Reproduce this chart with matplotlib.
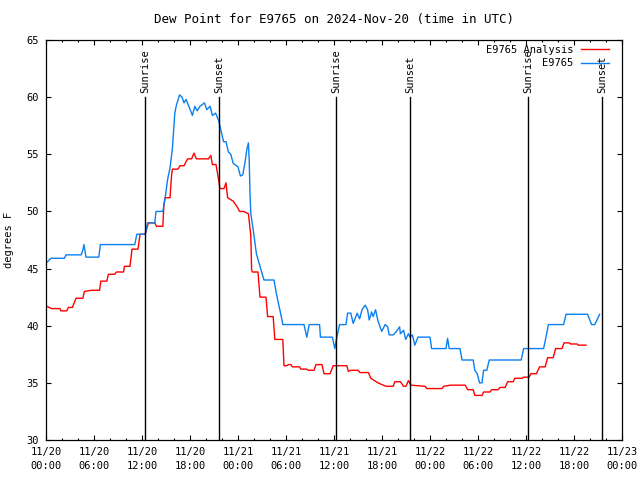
import matplotlib
matplotlib.use('Agg')
from matplotlib import pyplot as plt
from matplotlib import rcParams

rcParams['font.family'] = 'DejaVu Sans Mono'
rcParams['font.size'] = 7.5

# hours since 2024-11-20 00:00 UTC
obs_hours = [0.0, 0.2, 0.6, 2.3, 2.5, 4.4, 4.6, 4.75, 5.0, 6.6, 6.8, 11.1, 11.35, 12.4,
             12.7, 13.6, 13.75, 14.6, 14.9, 15.2, 15.5, 15.8, 16.1, 16.3, 16.7, 17.0,
             17.25, 17.5, 17.8, 18.3, 18.6, 18.9, 19.25, 19.8, 20.1, 20.5, 20.8, 21.2,
             21.6, 21.9, 22.2, 22.5, 22.8, 23.1, 23.4, 24.0, 24.3, 24.6, 24.9, 25.1,
             25.3, 25.4, 25.5, 25.6, 25.9, 26.3, 26.75, 27.25, 28.5, 28.8, 29.5, 29.6,
             32.25, 32.6, 32.9, 34.2, 34.3, 35.8, 36.1, 36.3, 36.7, 37.5, 37.7, 38.1,
             38.4, 38.9, 39.2, 39.5, 39.9, 40.2, 40.4, 40.7, 40.9, 41.2, 41.5, 41.96,
             42.4, 42.7, 42.9, 43.4, 43.8, 44.2, 44.3, 44.7, 44.96, 45.3, 45.5, 45.8,
             46.1, 46.5, 48.0, 48.2, 50.0, 50.2, 50.4, 51.75, 52.0, 53.4, 53.6, 53.9,
             54.2, 54.5, 54.7, 55.1, 55.4, 59.4, 59.7, 62.2, 62.5, 62.8, 64.7, 65.0,
             67.7, 68.2, 68.6, 69.2]
obs_dewpt = [45.5, 45.6, 45.9, 45.9, 46.2, 46.2, 46.6, 47.1, 46.0, 46.0, 47.1, 47.1, 48.0, 48.0,
             49.0, 49.0, 50.0, 50.0, 51.2, 52.8, 53.8, 55.5, 58.6, 59.3, 60.2, 60.0,
             59.5, 59.8, 59.3, 58.4, 59.2, 58.8, 59.2, 59.5, 58.9, 59.2, 58.4, 58.6,
             57.9, 57.0, 56.1, 56.1, 55.2, 55.0, 54.2, 53.9, 53.1, 53.2, 54.4, 55.4,
             56.0, 54.5, 51.6, 49.8, 48.4, 46.3, 45.2, 44.0, 44.0, 42.8, 40.5, 40.1,
             40.1, 39.0, 40.1, 40.1, 39.0, 39.0, 38.0, 38.8, 40.1, 40.1, 41.1, 41.1,
             40.2, 41.1, 40.6, 41.4, 41.8, 41.4, 40.5, 41.2, 40.8, 41.4, 40.4, 39.5,
             40.1, 39.9, 39.2, 39.2, 39.5, 39.9, 39.3, 39.6, 38.8, 39.3, 39.0, 39.2,
             38.3, 39.0, 39.0, 38.0, 38.0, 38.9, 38.0, 38.0, 37.0, 37.0, 36.1, 35.8,
             35.0, 35.0, 36.1, 36.1, 37.0, 37.0, 38.0, 38.0, 39.0, 40.1, 40.1, 41.0,
             41.0, 40.1, 40.1, 41.0]

ana_hours = [0.1, 0.7, 1.75, 1.85, 2.6, 2.8, 3.3, 3.75, 4.6, 4.8, 5.7, 6.7, 6.85, 7.6, 7.8,
             8.6, 8.8, 9.7, 9.8, 10.5, 10.75, 11.5, 11.75, 12.4, 12.8, 13.6, 13.8, 14.6,
             14.75, 14.9, 15.5, 15.7, 15.8, 16.5, 16.75, 17.25, 17.7, 18.2, 18.5, 18.8,
             20.3, 20.6, 20.8, 21.25, 21.5, 21.75, 22.25, 22.5, 22.7, 23.4, 23.9, 24.2,
             24.7, 25.3, 25.6, 25.7, 25.8, 26.5, 26.75, 27.5, 27.7, 28.4, 28.6, 29.6,
             29.75, 30.1, 30.3, 30.6, 30.8, 31.7, 31.85, 32.6, 32.8, 33.5, 33.75, 34.5,
             34.75, 35.5, 35.9, 37.6, 37.8, 38.1, 39.0, 39.25, 40.3, 40.6, 41.5, 42.5,
             43.4, 43.6, 44.3, 44.7, 45.0, 45.3, 45.6, 47.4, 47.6, 49.5, 49.7, 50.6,
             52.4, 52.7, 53.4, 53.6, 54.5, 54.7, 55.5, 55.7, 56.5, 56.75, 57.4, 57.7,
             58.4, 58.6, 59.5, 59.7, 60.4, 60.6, 61.3, 61.7, 62.4, 62.7, 63.4, 63.7,
             64.5, 64.75, 65.4, 65.6, 66.4, 66.5, 67.5]
ana_dewpt = [41.7, 41.5, 41.5, 41.3, 41.3, 41.6, 41.6, 42.4, 42.4, 43.0, 43.1, 43.1, 43.9, 43.9, 44.5,
             44.5, 44.7, 44.7, 45.2, 45.2, 46.7, 46.7, 48.0, 48.0, 49.0, 49.0, 48.7, 48.7,
             50.7, 51.2, 51.2, 53.2, 53.7, 53.7, 54.0, 54.0, 54.6, 54.6, 55.1, 54.6,
             54.6, 54.9, 54.1, 54.1, 53.1, 52.0, 52.0, 52.5, 51.2, 50.9, 50.4, 50.0,
             50.0, 49.8, 47.9, 44.9, 44.7, 44.7, 42.5, 42.5, 40.8, 40.8, 38.8, 38.8,
             36.5, 36.5, 36.6, 36.6, 36.4, 36.4, 36.2, 36.2, 36.1, 36.1, 36.6, 36.6,
             35.8, 35.8, 36.5, 36.5, 36.0, 36.1, 36.1, 35.9, 35.9, 35.4, 35.0, 34.7,
             34.7, 35.1, 35.1, 34.7, 34.7, 35.2, 34.8, 34.7, 34.5, 34.5, 34.7, 34.8,
             34.8, 34.4, 34.4, 33.9, 33.9, 34.2, 34.2, 34.4, 34.4, 34.6, 34.6, 35.1,
             35.1, 35.4, 35.4, 35.5, 35.5, 35.8, 35.8, 36.4, 36.4, 37.2, 37.2, 38.0,
             38.0, 38.5, 38.5, 38.4, 38.4, 38.3, 38.3]

sun_hours = [12.4, 21.6, 36.25, 45.5, 60.25, 69.5]
sun_labels = ['Sunrise', 'Sunset', 'Sunrise', 'Sunset', 'Sunrise', 'Sunset']

tick_hours = list(range(0, 73, 6))
tick_labels = ['11/20\n00:00', '11/20\n06:00', '11/20\n12:00', '11/20\n18:00',
               '11/21\n00:00', '11/21\n06:00', '11/21\n12:00', '11/21\n18:00',
               '11/22\n00:00', '11/22\n06:00', '11/22\n12:00', '11/22\n18:00',
               '11/23\n00:00']

fig = plt.figure(figsize=(6.4, 4.8), dpi=100)
ax = fig.add_axes([46 / 640, 40 / 480, 576 / 640, 400 / 480])

ax.plot(ana_hours, ana_dewpt, color='#ff0000', lw=1.0, label='E9765 Analysis')
ax.plot(obs_hours, obs_dewpt, color='#0a80f0', lw=1.0, label='E9765')

for h, lab in zip(sun_hours, sun_labels):
    ax.plot([h, h], [30, 60], color='black', lw=1.0)
    ax.text(h, 60.35, lab, rotation=90, ha='center', va='bottom')

ax.set_xlim(0, 72)
ax.set_ylim(30, 65)
ax.set_xticks(tick_hours)
ax.set_xticklabels(tick_labels, linespacing=1.5)
ax.set_xticks(range(0, 73, 2), minor=True)
ax.set_yticks(range(30, 66, 5))
ax.tick_params(which='major', direction='in', length=3.3, width=0.8,
               top=True, right=True, pad=5)
ax.tick_params(which='minor', direction='in', length=1.6, width=0.8,
               top=True, right=True)
for s in ax.spines.values():
    s.set_linewidth(0.9)

ax.set_ylabel('degrees F', labelpad=9)
ax.set_title('Dew Point for E9765 on 2024-Nov-20 (time in UTC)', pad=12)

ax.legend(loc='upper right', bbox_to_anchor=(0.988, 1.003), frameon=False,
          markerfirst=False, handlelength=2.7, handletextpad=0.7,
          borderaxespad=0.2, labelspacing=0.3)

fig.savefig('out.png', dpi=100)
